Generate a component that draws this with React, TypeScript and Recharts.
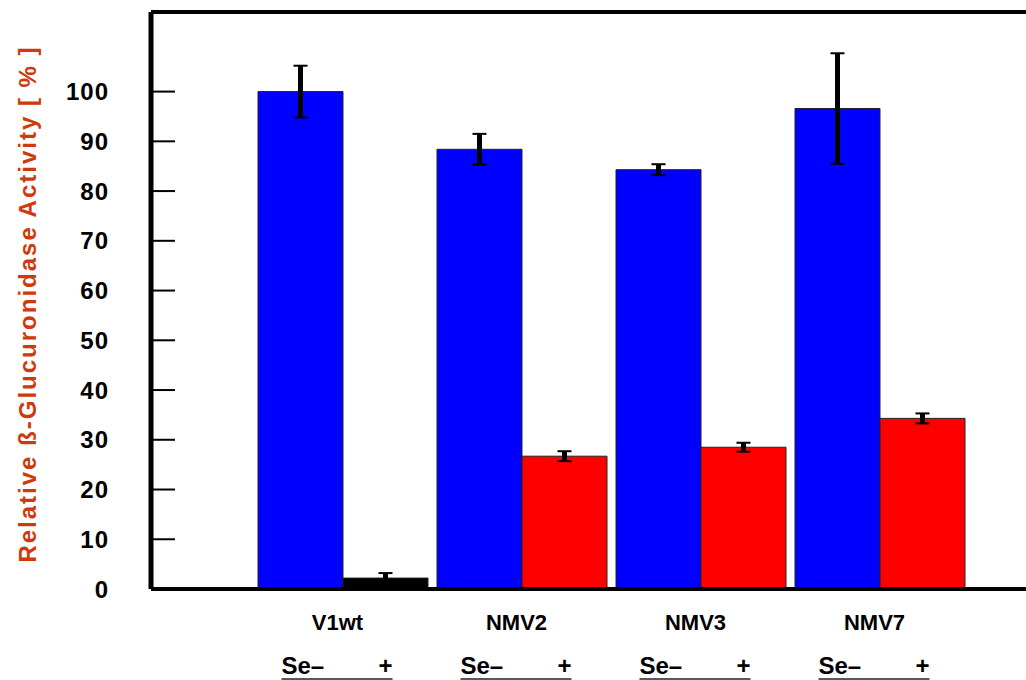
import { Bar, BarChart, Cell, ErrorBar, ReferenceLine, XAxis, YAxis } from "recharts"

const categories = ["V1wt", "NMV2", "NMV3", "NMV7"]
const minusValues = [100, 88.4, 84.3, 96.6]
const minusErrors = [5.2, 3.1, 1.1, 11.1]
const plusValues = [2.2, 26.7, 28.5, 34.3]
const plusErrors = [1.0, 1.0, 0.9, 1.0]
const plusColors = ["#000000", "#FF0000", "#FF0000", "#FF0000"]
const yTicks = [0, 10, 20, 30, 40, 50, 60, 70, 80, 90, 100]

const data = categories.map((name, i) => ({
  name,
  minus: minusValues[i],
  minusErr: minusErrors[i],
  plus: plusValues[i],
  plusErr: plusErrors[i],
}))

const font = "'Liberation Sans', Arial, sans-serif"

function YTick({ x, y, payload }: any) {
  return (
    <g>
      <line x1={x} x2={x + 24} y1={y} y2={y} stroke="#000" strokeWidth={2} />
      <text
        x={x - 42}
        y={y}
        textAnchor="end"
        dominantBaseline="central"
        fontFamily={font}
        fontWeight="bold"
        fontSize={24}
        letterSpacing={1}
        fill="#000"
      >
        {payload.value}
      </text>
    </g>
  )
}

function XTick({ x, y, payload }: any) {
  const txt = { fontFamily: font, fontWeight: "bold" as const, fill: "#000" }
  return (
    <g>
      <text x={x - 5} y={y + 41} textAnchor="middle" fontSize={22} {...txt}>
        {payload.value}
      </text>
      <text x={x - 61} y={y + 85} textAnchor="start" fontSize={24} {...txt}>
        Se–
      </text>
      <text x={x + 50} y={y + 85} textAnchor="end" fontSize={24} {...txt}>
        +
      </text>
      <line x1={x - 61} x2={x + 50} y1={y + 90} y2={y + 90} stroke="#222" strokeWidth={1.5} />
    </g>
  )
}

export default function App() {
  return (
    <div style={{ position: "absolute", left: 0, top: 0, background: "#fff" }}>
      <BarChart
        width={1026}
        height={680}
        data={data}
        margin={{ top: 12, right: 0, bottom: 0, left: 0 }}
        barCategoryGap={5}
        barGap={0}
      >
        <XAxis
          dataKey="name"
          height={91}
          padding={{ left: 102, right: 57 }}
          axisLine={{ stroke: "#000", strokeWidth: 4 }}
          tickLine={false}
          tickSize={0}
          tickMargin={0}
          tick={<XTick />}
          interval={0}
        />
        <YAxis
          width={151}
          domain={[0, 116]}
          ticks={yTicks}
          axisLine={{ stroke: "#000", strokeWidth: 5 }}
          tickLine={false}
          tickSize={0}
          tickMargin={0}
          tick={<YTick />}
          interval={0}
          label={{
            content: () => (
              <text
                x={27}
                y={304}
                transform="rotate(-90 27 304)"
                textAnchor="middle"
                dominantBaseline="central"
                fontFamily={font}
                fontWeight="bold"
                fontSize={24}
                letterSpacing={2}
                fill="#CF3A0B"
              >
                Relative ß-Glucuronidase Activity [ % ]
              </text>
            ),
          }}
        />
        <ReferenceLine y={116} stroke="#000" strokeWidth={4} ifOverflow="visible" />
        <Bar dataKey="minus" fill="#0000FF" stroke="#222" strokeWidth={1} isAnimationActive={false}>
          <ErrorBar dataKey="minusErr" width={0} stroke="#000" strokeWidth={5} />
          <ErrorBar dataKey="minusErr" width={7} stroke="#000" strokeWidth={2} />
        </Bar>
        <Bar dataKey="plus" stroke="#222" strokeWidth={1} isAnimationActive={false}>
          {plusColors.map((c, i) => (
            <Cell key={i} fill={c} />
          ))}
          <ErrorBar dataKey="plusErr" width={0} stroke="#000" strokeWidth={5} />
          <ErrorBar dataKey="plusErr" width={7} stroke="#000" strokeWidth={2} />
        </Bar>
      </BarChart>
    </div>
  )
}
